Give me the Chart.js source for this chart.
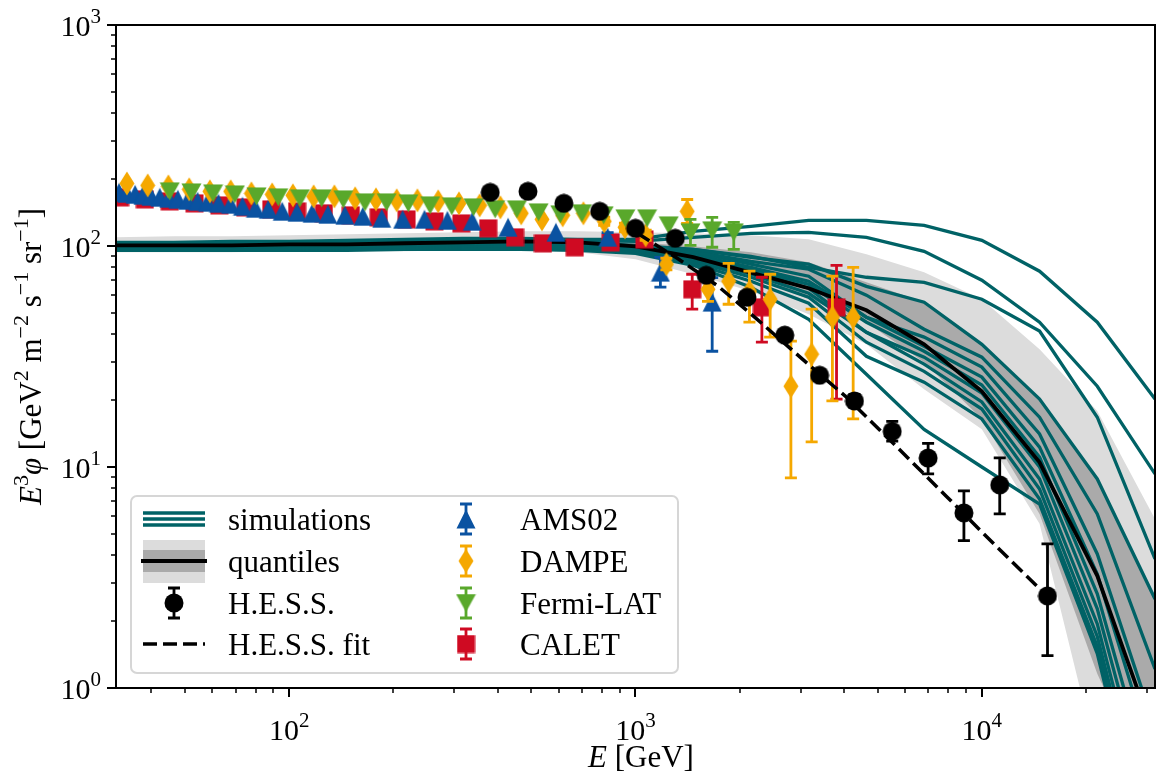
<!DOCTYPE html>
<html>
<head>
<meta charset="utf-8">
<style>
html,body{margin:0;padding:0;background:#fff;overflow:hidden}
#wrap{width:1156px;height:774px;overflow:hidden}
canvas{display:block}
</style>
<script src="https://cdn.jsdelivr.net/npm/chart.js@4.4.1/dist/chart.umd.min.js"></script>
</head>
<body>
<div id="wrap"><canvas id="c" width="1166" height="774"></canvas></div>
<script>
// energy grid of the simulated spectra [GeV]
const simE = [31.62, 46.42, 68.13, 100, 146.8, 215.4, 316.2, 464.2, 681.3, 1000, 1468, 2154, 3162, 4642, 6813, 10000, 14678, 21544, 31623];

// simulated spectra E^3 phi
const sim01 = [103.9,103.9,105,105,106.1,107.2,108.3,108.3,107.2,107.2,116.5,122.8,130.6,130.6,124.0,106.1,76.9,45.2,20.3];
const sim02 = [102.9,102.9,102.9,103.9,103.9,105,106.1,106.1,106.1,105,109.5,114.1,115.3,109.5,94.6,70.0,45.2,23.2,9.30];
const sim03 = [100.7,100.7,101.8,101.8,102.9,102.9,103.9,103.9,103.9,100.7,96.6,89.8,80.1,72.2,68.5,57.4,41.2,16.8,3.84];
const sim04 = [100.7,100.7,100.7,101.8,101.8,102.9,102.9,103.9,102.9,99.7,96.6,88.9,82.7,65.7,55.7,35.9,20.3,8.83,2.53];
const sim05 = [99.7,99.7,99.7,100.7,100.7,101.8,101.8,102.9,101.8,98.7,94.6,85.3,78.5,59.9,42.0,31.4,16.8,6.13,1.22];
const sim06 = [99.7,99.7,99.7,99.7,100.7,100.7,101.8,101.8,100.7,98.7,93.7,82.7,73.0,47.6,38.7,28.3,14.1,4.04,0.655];
const sim07 = [98.7,98.7,98.7,99.7,99.7,99.7,100.7,100.7,99.7,97.6,91.7,80.1,69.3,47.6,35.2,25.5,12.3,3.28,0.455];
const sim08 = [98.7,98.7,98.7,98.7,98.7,99.7,99.7,100.7,99.7,96.6,90.8,78.5,67.1,45.2,33.4,23.5,11.1,2.67,0.316];
const sim09 = [97.6,97.6,97.6,97.6,98.7,98.7,99.7,99.7,98.7,96.6,88.9,76.9,64.4,40.7,31.4,21.6,10.0,2.28,0.244];
const sim10 = [96.6,96.6,96.6,96.6,97.6,97.6,98.7,98.7,97.6,95.6,87.1,74.5,61.1,40.7,29.2,19.7,8.83,1.95,0.188];
const sim11 = [98.7,98.7,98.7,98.7,98.7,98.7,99.7,99.7,98.7,94.6,85.3,72.2,58.6,36.7,27.1,18.3,7.95,1.71,0.161];
const sim12 = [96.6,96.6,96.6,97.6,97.6,97.6,98.7,98.7,97.6,93.7,83.5,69.3,55.1,31.7,24.2,16.5,7.17,1.54,0.137];
const sim13 = [95.6,95.6,95.6,95.6,95.6,96.6,96.6,96.6,95.6,92.7,81.8,65.1,46.6,26.3,14.8,10.0,6.80,1.43,0.124];
const simLines = [sim01, sim02, sim03, sim04, sim05, sim06, sim07, sim08, sim09, sim10, sim11, sim12, sim13];

// quantiles of the simulations
const qLightHi = [109.5,110.6,110.6,111.8,112.9,114.1,115.3,116.5,116.5,115.3,114.1,111.8,107.2,91.7,76.0,57.4,34.1,17.9,5.82];
const qDarkHi  = [103.9,103.9,105,105,106.1,107.2,107.2,108.3,107.2,103.9,99.7,93.7,84.4,68.5,55.7,35.9,20.3,8.83,2.53];
const qMedian  = [100.7,100.7,100.7,101.8,101.8,102.9,103.9,105,103.9,99.7,89.0,75.8,64.4,51.2,35.9,22.0,10.5,3.22,0.590];
const qDarkLo  = [97.6,97.6,97.6,98.7,98.7,98.7,99.7,99.7,97.6,92.7,85.3,74.5,57.4,45.2,29.8,16.5,6.13,1.16,0.316];
const qLightLo = [93.7,93.7,93.7,94.6,94.6,94.6,95.6,95.6,93.7,87.1,74.5,62.4,49.1,35.9,22.5,14.8,5.53,0.479,0.188];

// H.E.S.S.
const hessE  = [380.6,489.3,621,788,1000,1303,1600,2098,2698,3401,4288,5512,6997,8877,11264,15474];
const hessF  = [174.8,176.7,156.0,143.5,120.2,108.3,73.7,58.6,39.5,26.0,19.9,14.5,10.98,6.20,8.30,2.61];
const hessLo = [170,172,152,139,116,104,71,56,37.5,24.6,18.6,13.1,9.3,4.64,6.13,1.40];
const hessHi = [180,181,160,148,124,112,77,61,41.5,27.5,21.3,16.1,12.8,7.79,11.0,4.49];
const fitE = [1013,1320,1720,2242,2921,4067,5660,7880,10970,15480];
const fitF = [114.1,88.0,66.4,46.7,32.4,20.7,12.4,7.40,4.40,2.59];

// AMS02
const amsE = [32.26,34.0,35.9,37.8,39.9,42.3,44.9,47.7,50.9,54.4,58.1,62.5,67.7,73.3,79.9,87.0,95.5,105.4,116.5,129.4,144.8,163.2,185.0,212.6,245.9,286.3,337.9,428.7,589.2,830.9,1180,1665];
const amsF = [174.8,173.0,171.2,169.5,167.7,166.0,164.3,162.6,160.9,159.2,157.6,156.0,154.3,151.2,148.0,146.5,143.5,142.0,140.6,139.1,137.7,136.2,133.4,132.0,132.0,130.6,129.3,121.5,115.3,109.5,76.1,55.7];
const amsLo = [null,null,null,null,null,null,null,null,null,null,null,null,null,null,null,null,null,null,null,null,null,null,null,null,null,null,null,null,null,104,65.1,33.4];
const amsHi = [null,null,null,null,null,null,null,null,null,null,null,null,null,null,null,null,null,null,null,null,null,null,null,null,null,null,null,null,null,115,88.9,72];

// DAMPE
const dampeE = [34.0,39.05,44.8,51.45,59.05,67.8,77.8,89.3,102.5,117.7,135.1,155.1,178.1,204.4,234.6,269.4,309.2,354.9,407.4,467.7,536.9,616.3,707.4,812.1,932.2,1070,1228,1410,1619,1858,2133,2448,2810,3226,3703,4251];
const dampeF = [191.9,188.0,186.1,180.4,176.7,176.7,173.0,171.2,169.5,167.7,167.7,164.3,162.6,160.9,160.9,159.2,156.0,152.7,149.6,140.6,132.0,137.7,140.6,129.3,121.5,111.8,82.7,143.5,63.7,69.3,62.4,57.4,23.2,32.4,47.6,47.6];
const dampeLo = [null,null,null,null,null,null,null,null,null,null,null,null,null,null,null,null,null,null,null,null,null,null,null,124,116,106,78,126.7,56.2,54.5,45.2,38.7,8.92,13.0,19.9,16.5];
const dampeHi = [null,null,null,null,null,null,null,null,null,null,null,null,null,null,null,null,null,null,null,null,null,null,null,135,127,118,88,162.3,72.2,83.5,76.9,74.5,37.1,51.8,73.0,80.1];

// Fermi-LAT
const fermiE = [45.2,52.2,60.3,69.7,80.5,93.0,107.4,124.1,143.3,165.6,191.2,220.9,255.3,294.8,340.6,393.4,454.5,525.1,606.4,700.5,809.2,934.6,1080,1247,1441,1665,1922];
const fermiF = [176.7,174.8,173.0,171.2,167.7,166.0,164.3,164.3,162.6,157.6,157.6,156.0,152.7,151.2,149.6,146.5,146.5,142.0,139.1,140.6,137.7,133.4,133.4,124.0,115.3,117.7,115.3];
const fermiLo = [null,null,null,null,null,null,null,null,null,null,null,null,null,null,null,null,null,null,null,null,null,null,null,null,100.7,98.7,96.6];
const fermiHi = [null,null,null,null,null,null,null,null,null,null,null,null,null,null,null,null,null,null,null,null,null,null,null,null,132.0,134.8,128.0];

// CALET
const caletE = [32.5,38.3,45.2,53.3,62.9,74.7,88.8,105.4,126.0,150.7,181.4,218.3,262.8,314.1,375.6,449.0,540.5,667.7,847.7,1061,1458,2317,3806];
const caletF = [166.0,162.6,159.2,156.0,152.7,149.6,146.5,143.5,140.6,137.7,134.8,132.0,129.3,126.6,120.2,109.5,102.9,98.7,103.9,107.2,63.7,52.8,52.8];
const caletLo = [null,null,null,null,null,null,null,null,null,null,null,null,null,null,null,null,null,null,99,102,51.8,36.7,20.3];
const caletHi = [null,null,null,null,null,null,null,null,null,null,null,null,null,null,null,null,null,null,109,112,74.5,72.2,81.8];

// axes
const xTicks = [100, 1000, 10000];
const yTicks = [1, 10, 100, 1000];
const xRange = [31.6228, 31622.8];
const yRange = [1, 1000];

const TEAL = '#006266', BLUE = '#0a52a1', ORANGE = '#f5a800', GREEN = '#59a82b', RED = '#cf0a22';
const FONT = '"Liberation Serif", "DejaVu Serif", serif';

function pts(xs, ys){ return xs.map((v,i)=>({x:v, y:ys[i]})); }

function marker(shape, color, w, h){
  const c = document.createElement('canvas');
  c.width = w; c.height = h;
  const g = c.getContext('2d');
  g.fillStyle = color;
  g.beginPath();
  if(shape==='circle') g.arc(w/2, h/2, w/2-0.5, 0, Math.PI*2);
  else if(shape==='up'){ g.moveTo(w/2,0.5); g.lineTo(w-0.5,h-0.5); g.lineTo(0.5,h-0.5); }
  else if(shape==='down'){ g.moveTo(0.5,0.5); g.lineTo(w-0.5,0.5); g.lineTo(w/2,h-0.5); }
  else if(shape==='diamond'){ g.moveTo(w/2,0.5); g.lineTo(w-0.5,h/2); g.lineTo(w/2,h-0.5); g.lineTo(0.5,h/2); }
  else g.rect(0.5,0.5,w-1,h-1);
  g.closePath();
  g.fill();
  return c;
}

const mkHess = marker('circle', '#000', 20, 20);
const mkAms = marker('up', BLUE, 20, 20);
const mkDampe = marker('diamond', ORANGE, 16, 25);
const mkFermi = marker('down', GREEN, 21, 19);
const mkCalet = marker('square', RED, 19, 19);

function series(xs, ys, lo, hi, img, color, order){
  return {
    data: pts(xs, ys), showLine: false, pointStyle: img, pointRadius: 10,
    borderColor: color, backgroundColor: color, errLo: lo, errHi: hi, errColor: color,
    order: order, clip: 0
  };
}

const datasets = [];
datasets.push({data: pts(simE, qLightHi), fill: '+1', backgroundColor: '#dcdcdc', borderColor: 'rgba(0,0,0,0)', borderWidth: 0, pointRadius: 0, order: 30, clip: 0});
datasets.push({data: pts(simE, qLightLo), fill: false, borderColor: 'rgba(0,0,0,0)', borderWidth: 0, pointRadius: 0, order: 30, clip: 0});
datasets.push({data: pts(simE, qDarkHi), fill: '+1', backgroundColor: '#aaaaaa', borderColor: 'rgba(0,0,0,0)', borderWidth: 0, pointRadius: 0, order: 29, clip: 0});
datasets.push({data: pts(simE, qDarkLo), fill: false, borderColor: 'rgba(0,0,0,0)', borderWidth: 0, pointRadius: 0, order: 29, clip: 0});
simLines.forEach(s => {
  datasets.push({data: pts(simE, s), borderColor: TEAL, borderWidth: 3.3, pointRadius: 0, fill: false, order: 28, clip: 0});
});
datasets.push({data: pts(simE, qMedian), borderColor: '#000', borderWidth: 3.8, pointRadius: 0, fill: false, order: 27, clip: 0});
datasets.push(series(caletE, caletF, caletLo, caletHi, mkCalet, RED, 15));
datasets.push(series(amsE, amsF, amsLo, amsHi, mkAms, BLUE, 14));
datasets.push(series(dampeE, dampeF, dampeLo, dampeHi, mkDampe, ORANGE, 13));
datasets.push(series(fermiE, fermiF, fermiLo, fermiHi, mkFermi, GREEN, 12));
datasets.push({data: pts(fitE, fitF), borderColor: '#000', borderWidth: 3.5, borderDash: [14, 6], pointRadius: 0, fill: false, order: 11, clip: 0});
datasets.push(series(hessE, hessF, hessLo, hessHi, mkHess, '#000', 10));

function errBar(ctx, x, y1, y2){
  ctx.beginPath();
  ctx.moveTo(x, y1); ctx.lineTo(x, y2);
  ctx.moveTo(x-6, y1); ctx.lineTo(x+6, y1);
  ctx.moveTo(x-6, y2); ctx.lineTo(x+6, y2);
  ctx.stroke();
}

const errorBarPlugin = {
  id: 'errbars',
  beforeDatasetDraw(chart, args){
    const ds = chart.data.datasets[args.index];
    if(!ds.errLo) return;
    const {ctx, chartArea: a} = chart;
    const y = chart.scales.y;
    ctx.save();
    ctx.beginPath(); ctx.rect(a.left, a.top, a.right-a.left, a.bottom-a.top); ctx.clip();
    ctx.strokeStyle = ds.errColor; ctx.lineWidth = 2.8;
    args.meta.data.forEach((p, i) => {
      const lo = ds.errLo[i], hi = ds.errHi[i];
      if(lo == null) return;
      errBar(ctx, p.x, y.getPixelForValue(lo), y.getPixelForValue(hi));
    });
    ctx.restore();
  }
};

// text with italics and superscripts
function runFont(style, size){
  const s = style === 's' ? Math.round(size*0.7) : size;
  return (style === 'i' ? 'italic ' : '') + s + 'px ' + FONT;
}
function richWidth(ctx, runs, size){
  let w = 0;
  runs.forEach(r => { ctx.font = runFont(r[1], size); w += ctx.measureText(r[0]).width; });
  return w;
}
function drawRich(ctx, runs, x, y, size, align){
  const w = richWidth(ctx, runs, size);
  let cx = align === 'center' ? x - w/2 : (align === 'right' ? x - w : x);
  ctx.textAlign = 'left'; ctx.textBaseline = 'alphabetic';
  runs.forEach(r => {
    ctx.font = runFont(r[1], size);
    ctx.fillText(r[0], cx, r[1] === 's' ? y - Math.round(size*0.42) : y);
    cx += ctx.measureText(r[0]).width;
  });
}
const supDigits = n => [['10',''], [String(Math.round(Math.log10(n))), 's']];

function drawLegend(ctx){
  ctx.save();
  ctx.beginPath();
  ctx.roundRect(131, 496, 547, 177, 6);
  ctx.fillStyle = 'rgba(255,255,255,0.85)'; ctx.fill();
  ctx.strokeStyle = '#d6d6d6'; ctx.lineWidth = 2; ctx.stroke();

  const rows = [519, 561, 603, 644];
  // simulations
  ctx.strokeStyle = TEAL; ctx.lineWidth = 3.3;
  [-6, 0, 6].forEach(d => { ctx.beginPath(); ctx.moveTo(143, rows[0]+d); ctx.lineTo(205, rows[0]+d); ctx.stroke(); });
  // quantiles
  ctx.fillStyle = '#dcdcdc'; ctx.fillRect(143, rows[1]-21, 62, 43);
  ctx.fillStyle = '#aaaaaa'; ctx.fillRect(143, rows[1]-11, 62, 22);
  ctx.strokeStyle = '#000'; ctx.lineWidth = 3.8;
  ctx.beginPath(); ctx.moveTo(141, rows[1]); ctx.lineTo(207, rows[1]); ctx.stroke();
  // H.E.S.S.
  ctx.lineWidth = 2.8;
  errBar(ctx, 174, rows[2]-15, rows[2]+15);
  ctx.drawImage(mkHess, 174 - mkHess.width/2, rows[2] - mkHess.height/2);
  // fit
  ctx.lineWidth = 3.5; ctx.setLineDash([14, 6]);
  ctx.beginPath(); ctx.moveTo(143, rows[3]); ctx.lineTo(205, rows[3]); ctx.stroke();
  ctx.setLineDash([]);
  // experiments
  const mk = [[mkAms, BLUE], [mkDampe, ORANGE], [mkFermi, GREEN], [mkCalet, RED]];
  mk.forEach((m, i) => {
    ctx.strokeStyle = m[1]; ctx.lineWidth = 2.8;
    errBar(ctx, 466, rows[i]-15, rows[i]+15);
    ctx.drawImage(m[0], 466 - m[0].width/2, rows[i] - m[0].height/2);
  });
  ctx.fillStyle = '#000';
  ctx.font = '31px ' + FONT; ctx.textAlign = 'left'; ctx.textBaseline = 'alphabetic';
  const left = ['simulations', 'quantiles', 'H.E.S.S.', 'H.E.S.S. fit'];
  const right = ['AMS02', 'DAMPE', 'Fermi-LAT', 'CALET'];
  left.forEach((t, i) => ctx.fillText(t, 228, rows[i] + 11));
  right.forEach((t, i) => ctx.fillText(t, 520, rows[i] + 11));
  ctx.restore();
}

const framePlugin = {
  id: 'frame',
  afterDraw(chart){
    const {ctx, chartArea: a} = chart;
    const x = chart.scales.x, y = chart.scales.y;
    ctx.save();
    ctx.strokeStyle = '#000';
    // minor + major ticks
    for(let k = 0; k <= 4; k++){
      for(let m = 1; m <= 9; m++){
        const v = m * Math.pow(10, k);
        const major = m === 1;
        ctx.lineWidth = major ? 2 : 1.5;
        if(v >= x.min && v <= x.max){
          const px = Math.round(x.getPixelForValue(v));
          ctx.beginPath(); ctx.moveTo(px, a.bottom); ctx.lineTo(px, a.bottom + (major ? 9 : 5)); ctx.stroke();
        }
        if(v >= y.min && v <= y.max){
          const py = Math.round(y.getPixelForValue(v));
          ctx.beginPath(); ctx.moveTo(a.left, py); ctx.lineTo(a.left - (major ? 9 : 5), py); ctx.stroke();
        }
      }
    }
    ctx.lineWidth = 2;
    ctx.strokeRect(a.left, a.top, a.right - a.left, a.bottom - a.top);

    ctx.fillStyle = '#000';
    xTicks.forEach(v => drawRich(ctx, supDigits(v), x.getPixelForValue(v), 740, 30, 'center'));
    yTicks.forEach(v => drawRich(ctx, supDigits(v), 101, y.getPixelForValue(v) + 11, 30, 'right'));

    drawRich(ctx, [['E','i'], [' [GeV]','']], 641, 767, 31, 'center');
    ctx.save();
    ctx.translate(41, (a.top + a.bottom)/2);
    ctx.rotate(-Math.PI/2);
    drawRich(ctx, [['E','i'],['3','s'],['φ','i'],[' [GeV',''],['2','s'],[' m',''],['−2','s'],[' s',''],['−1','s'],[' sr',''],['−1','s'],[']','']], 0, 0, 31, 'center');
    ctx.restore();

    drawLegend(ctx);
    ctx.restore();
  }
};

new Chart(document.getElementById('c'), {
  type: 'line',
  data: { datasets: datasets },
  options: {
    responsive: false,
    animation: false,
    devicePixelRatio: 1,
    layout: { padding: { left: 0, right: 6, top: 25, bottom: 0 } },
    plugins: { legend: { display: false }, tooltip: { enabled: false } },
    elements: { line: { tension: 0 } },
    scales: {
      x: {
        type: 'logarithmic', min: xRange[0], max: xRange[1],
        grid: { display: false, drawTicks: false }, border: { display: false },
        ticks: { display: false },
        afterFit: s => { s.height = 86; }
      },
      y: {
        type: 'logarithmic', min: yRange[0], max: yRange[1],
        grid: { display: false, drawTicks: false }, border: { display: false },
        ticks: { display: false },
        afterFit: s => { s.width = 116; }
      }
    }
  },
  plugins: [errorBarPlugin, framePlugin]
});
</script>
</body>
</html>
